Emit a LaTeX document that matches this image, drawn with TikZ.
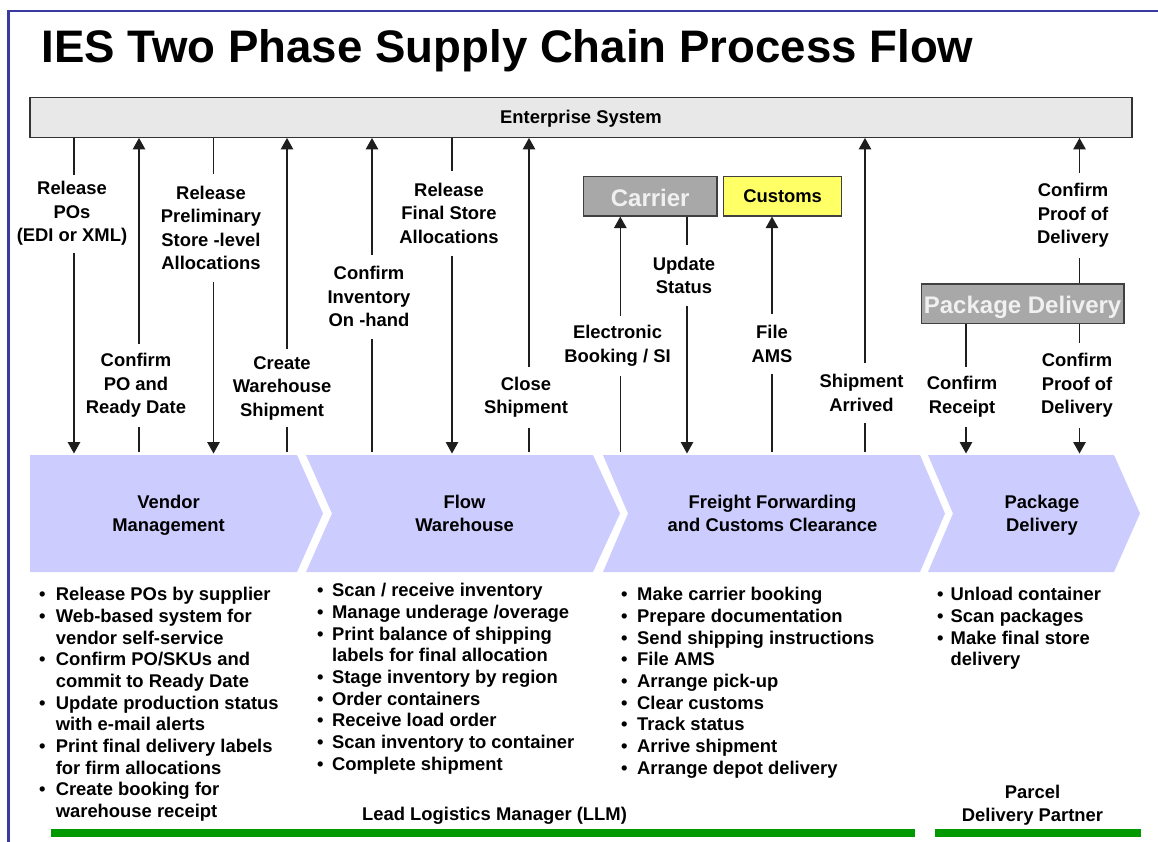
\documentclass[tikz,border=0pt]{standalone}
\usepackage{fontspec}
\setmainfont{Liberation Sans}
\usetikzlibrary{arrows.meta}
\definecolor{frameblue}{RGB}{58,58,160}
\definecolor{chev}{RGB}{204,204,255}
\definecolor{entfill}{RGB}{232,232,232}
\definecolor{boxgray}{RGB}{168,168,168}
\definecolor{custy}{RGB}{255,255,102}
\definecolor{barg}{RGB}{0,153,0}
\definecolor{lncol}{RGB}{30,30,30}
\newcommand{\bu}[1]{\makebox[#1pt][l]{\textbullet}}
\newcommand{\bi}[1]{\hspace*{#1pt}}
\tikzset{
  lbl/.style={font=\bfseries\fontsize{18.4}{23.5}\selectfont, align=center, inner xsep=2pt, inner ysep=0pt},
  conn/.style={draw=lncol, line width=1.3pt},
  tipc/.style={conn, -{Triangle[width=12.5pt,length=11.5pt]}},
  chevshape/.style={fill=chev, draw=none},
  chevlbl/.style={font=\bfseries\fontsize{18.4}{23.3}\selectfont, align=center, inner sep=0pt},
  blist/.style={font=\bfseries\fontsize{18.4}{21.67}\selectfont, align=left, anchor=north west, inner sep=0pt},
  graybox/.style={draw=black!75, line width=1.3pt, fill=boxgray, text=white!94!black, font=\bfseries\fontsize{24}{28}\selectfont, inner sep=0pt, minimum height=39.3pt, text height=20pt, text depth=0pt},
  ybox/.style={draw=black!75, line width=1.3pt, fill=custy, font=\bfseries\fontsize{18.4}{22}\selectfont, inner sep=0pt, minimum height=39.3pt, text height=12pt, text depth=0pt},
  greenbar/.style={fill=barg, draw=none},
}
\begin{document}
\begin{tikzpicture}[x=1pt,y=-1pt]
\useasboundingbox (0,0) rectangle (1158,841);
\fill[white] (0,0) rectangle (1158,841);
% frame
\draw[frameblue, line width=2.4pt] (8.5,850) -- (8.5,11) -- (1170,11);
% title
\node[anchor=base west, inner sep=0pt, font=\bfseries\fontsize{45.6}{50}\selectfont] (title) at (41.5,62.7) {IES Two Phase Supply Chain Process Flow};
% enterprise system
\node[draw=black!80, line width=1.3pt, fill=entfill, minimum width=1102pt, minimum height=39.6pt, inner sep=0pt, text height=12.2pt, text depth=0pt, font=\bfseries\fontsize{18.4}{22}\selectfont] (ent) at (581,117.5) {Enterprise System};
% partner boxes
\node[graybox, minimum width=133.5pt] (car) at (650.2,196.3) {Carrier};
\node[ybox, minimum width=118pt] (cus) at (782.6,196.3) {Customs};
\node[graybox, minimum width=202.7pt] (pk) at (1022.6,303.5) {Package Delivery};
% chevrons
\path[chevshape] (30,455) -- (297,455) -- (323,513.5) -- (297,572) -- (30,572) -- cycle;
\path[chevshape] (306,455) -- (593,455) -- (620,513.5) -- (593,572) -- (306,572) -- (332,513.5) -- cycle;
\path[chevshape] (603,455) -- (920,455) -- (945,513.5) -- (920,572) -- (603,572) -- (628,513.5) -- cycle;
\path[chevshape] (928,455) -- (1114,455) -- (1140,513.5) -- (1114,572) -- (928,572) -- (953,513.5) -- cycle;
\node[chevlbl] (vm) at (168.5,515.4) {Vendor\\Management};
\node[chevlbl] (fw) at (464.5,513.4) {Flow\\Warehouse};
\node[chevlbl] (ff) at (772.5,513.4) {Freight Forwarding\\and Customs Clearance};
\node[chevlbl] (pdc) at (1042,515.4) {Package\\Delivery};
% arrow end points on chevron tops
\coordinate (a1) at (74,453.5);
\coordinate (a2) at (139,452);
\coordinate (a3) at (213.5,453.5);
\coordinate (a4) at (287,452);
\coordinate (a5) at (372,452);
\coordinate (a6) at (452,453.5);
\coordinate (a7) at (529,452);
\coordinate (a8) at (620.3,452);
\coordinate (a9) at (687,453.5);
\coordinate (a10) at (772,452);
\coordinate (a11) at (865,452);
\coordinate (a12) at (966,453.5);
\coordinate (a13) at (1079.5,453.5);
% labels
\node[lbl, minimum height=78pt] (l1) at (72,213.7) {Release\\POs\\(EDI or XML)};
\node[lbl, minimum height=83pt] (l2) at (136,385.5) {Confirm\\PO and\\Ready Date};
\node[lbl, minimum height=108pt] (l3) at (211,228) {Release\\Preliminary\\Store -level\\Allocations};
\node[lbl, minimum height=78pt] (l4) at (282,388.2) {Create\\Warehouse\\Shipment};
\node[lbl, minimum height=84pt] (l5) at (369,296.7) {Confirm\\Inventory\\On -hand};
\node[lbl, minimum height=84pt] (l6) at (449,213.3) {Release\\Final Store\\Allocations};
\node[lbl, minimum height=60pt] (l7) at (526,397.3) {Close\\Shipment};
\node[lbl, minimum height=60pt] (l8) at (617.5,345.8) {Electronic\\Booking / SI};
\node[lbl, minimum height=60pt] (l9) at (684,275.3) {Update\\Status};
\node[lbl, minimum height=60pt] (l10) at (772,343.8) {File\\AMS};
\node[lbl, minimum height=60pt] (l11) at (861.5,392.8) {Shipment\\Arrived};
\node[lbl, minimum height=84pt] (l12) at (1073,215.3) {Confirm\\Proof of\\Delivery};
\node[lbl, minimum height=60pt] (l13) at (962,396.8) {Confirm\\Receipt};
\node[lbl, minimum height=84pt] (l14) at (1077,385.3) {Confirm\\Proof of\\Delivery};
% connectors: enterprise -> chevron (down)
\draw[conn] (ent.south -| a1) -- (l1.north -| a1);
\draw[tipc] (l1.south -| a1) -- (a1);
\draw[conn] (ent.south -| a3) -- (l3.north -| a3);
\draw[tipc] (l3.south -| a3) -- (a3);
\draw[conn] (ent.south -| a6) -- (l6.north -| a6);
\draw[tipc] (l6.south -| a6) -- (a6);
% chevron -> enterprise (up)
\draw[conn] (a2) -- (l2.south -| a2);
\draw[tipc] (l2.north -| a2) -- (ent.south -| a2);
\draw[conn] (a4) -- (l4.south -| a4);
\draw[tipc] (l4.north -| a4) -- (ent.south -| a4);
\draw[conn] (a5) -- (l5.south -| a5);
\draw[tipc] (l5.north -| a5) -- (ent.south -| a5);
\draw[conn] (a7) -- (l7.south -| a7);
\draw[tipc] (l7.north -| a7) -- (ent.south -| a7);
\draw[conn] (a11) -- (l11.south -| a11);
\draw[tipc] (l11.north -| a11) -- (ent.south -| a11);
% carrier and customs
\draw[conn] (a8) -- (l8.south -| a8);
\draw[tipc] (l8.north -| a8) -- (car.south -| a8);
\draw[conn] (car.south -| a9) -- (l9.north -| a9);
\draw[tipc] (l9.south -| a9) -- (a9);
\draw[conn] (a10) -- (l10.south -| a10);
\draw[tipc] (l10.north -| a10) -- (cus.south -| a10);
% package delivery
\draw[conn] (pk.south -| a12) -- (l13.north -| a12);
\draw[tipc] (l13.south -| a12) -- (a12);
\draw[conn] (pk.south -| a13) -- (l14.north -| a13);
\draw[tipc] (l14.south -| a13) -- (a13);
\draw[conn] (pk.north -| a13) -- (l12.south -| a13);
\draw[tipc] (l12.north -| a13) -- (ent.south -| a13);
% bullet lists
\node[blist] (b1) at (38.8,587.4) {\bu{16.8}Release POs by supplier\\
\bu{16.8}Web-based system for\\
\bi{16.8}vendor self-service\\
\bu{16.8}Confirm PO/SKUs and\\
\bi{16.8}commit to Ready Date\\
\bu{16.8}Update production status\\
\bi{16.8}with e-mail alerts\\
\bu{16.8}Print final delivery labels\\
\bi{16.8}for firm allocations\\
\bu{16.8}Create booking for\\
\bi{16.8}warehouse receipt};
\node[blist] (b2) at (316.8,583.4) {\bu{15}Scan / receive inventory\\
\bu{15}Manage underage /overage\\
\bu{15}Print balance of shipping\\
\bi{15}labels for final allocation\\
\bu{15}Stage inventory by region\\
\bu{15}Order containers\\
\bu{15}Receive load order\\
\bu{15}Scan inventory to container\\
\bu{15}Complete shipment};
\node[blist] (b3) at (620.8,587.4) {\bu{16.2}Make carrier booking\\
\bu{16.2}Prepare documentation\\
\bu{16.2}Send shipping instructions\\
\bu{16.2}File AMS\\
\bu{16.2}Arrange pick-up\\
\bu{16.2}Clear customs\\
\bu{16.2}Track status\\
\bu{16.2}Arrive shipment\\
\bu{16.2}Arrange depot delivery};
\node[blist] (b4) at (937,587.4) {\bu{13.5}Unload container\\
\bu{13.5}Scan packages\\
\bu{13.5}Make final store\\
\bi{13.5}delivery};
% responsibility bars
\node[chevlbl] (llm) at (494.5,816) {Lead Logistics Manager (LLM)};
\node[chevlbl] (pdp) at (1032.5,805) {Parcel\\Delivery Partner};
\path[greenbar] (50.7,829) rectangle (915,837);
\path[greenbar] (935,829) rectangle (1140.7,837);
\end{tikzpicture}
\end{document}
